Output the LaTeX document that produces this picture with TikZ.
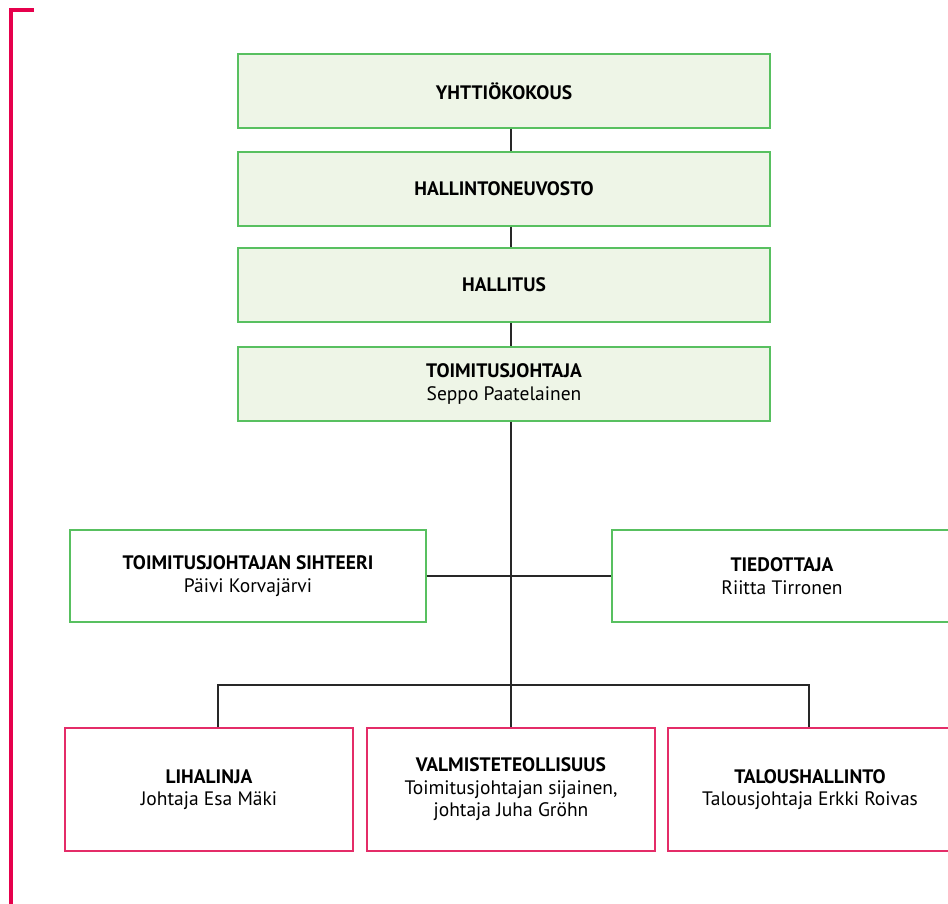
\documentclass[tikz,border=0pt]{standalone}
\usepackage{fontspec}
\setmainfont{PT Sans}
\usetikzlibrary{positioning}
\definecolor{boardgreen}{RGB}{88,192,96}
\definecolor{boardfill}{RGB}{238,245,231}
\definecolor{unitred}{RGB}{228,44,104}
\definecolor{bracketred}{RGB}{230,0,76}
\definecolor{linkgray}{RGB}{40,40,40}
\tikzset{
    board/.style={draw=boardgreen, fill=boardfill, line width=1.3pt, inner sep=0pt,
        minimum width=532pt, minimum height=74pt, align=center, font=\fontsize{19.5}{23}\selectfont},
    staff/.style={draw=boardgreen, line width=1.3pt, inner sep=0pt,
        minimum height=92pt, align=center, font=\fontsize{19.5}{23}\selectfont},
    unit/.style={draw=unitred, line width=1.3pt, inner sep=0pt,
        minimum height=123pt, align=center, font=\fontsize{19.5}{22.5}\selectfont},
    link/.style={draw=linkgray, line width=1.1pt},
    bracket/.style={draw=bracketred, line width=4pt}
}

\begin{document}
\begin{tikzpicture}[x=1pt,y=-1pt]
	\useasboundingbox (0,0) rectangle (948,903);
	% red margin bracket
	\draw[bracket] (34,10) -- (11,10) -- (11,905);
	% governing bodies
	\node[board] (meeting) at (504,91) {\textbf{YHTTIÖKOKOUS}};
	\node[board] (council) at (504,189) {\textbf{HALLINTONEUVOSTO}};
	\node[board] (boardb) at (504,285) {\textbf{HALLITUS}};
	\node[board] (ceo) at (504,384) {\textbf{TOIMITUSJOHTAJA}\\Seppo Paatelainen};
	% staff
	\node[staff, minimum width=356pt] (secr) at (248,576) {\textbf{TOIMITUSJOHTAJAN SIHTEERI}\\Päivi Korvajärvi};
	\node[staff, minimum width=340pt] (info) at (782,576) {\textbf{TIEDOTTAJA}\\Riitta Tirronen};
	% units
	\node[unit, minimum width=288pt] (meat) at (209,789.5) {\textbf{LIHALINJA}\\Johtaja Esa Mäki};
	\node[unit, minimum width=288pt] (manuf) at (511,789.5) {\textbf{VALMISTETEOLLISUUS}\\Toimitusjohtajan sijainen,\\johtaja Juha Gröhn};
	\node[unit, minimum width=284pt] (fin) at (810,789.5) {\textbf{TALOUSHALLINTO}\\Talousjohtaja Erkki Roivas};
	% connectors
	\coordinate (spine) at (511,0);
	\coordinate (fork) at (511,685);
	\draw[link] (meeting.south -| spine) -- (council.north -| spine);
	\draw[link] (council.south -| spine) -- (boardb.north -| spine);
	\draw[link] (boardb.south -| spine) -- (ceo.north -| spine);
	\draw[link] (ceo.south -| spine) -- (fork);
	\draw[link] (secr.east) -- (info.west);
	\draw[link] ([xshift=9pt]meat.north) |- (fork) -| ([xshift=-1pt]fin.north);
	\draw[link] (fork) -- (manuf.north);
\end{tikzpicture}
\end{document}
